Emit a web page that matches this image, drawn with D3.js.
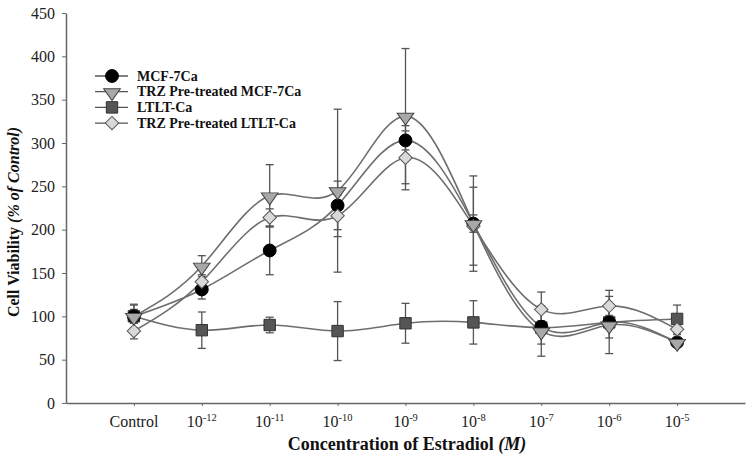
<!DOCTYPE html>
<html><head><meta charset="utf-8">
<script src="https://cdn.jsdelivr.net/npm/d3@7"></script>
<style>body{margin:0;background:#fff}svg{display:block}</style>
</head><body>
<svg id="c" width="750" height="458"></svg>
<script>
const categories = ["Control","-12","-11","-10","-9","-8","-7","-6","-5"];
const mcf7 =      [100, 131, 176, 228, 303, 207, 88, 93, 70];
const mcf7Err =   [8, 11, 28, 28, 11, 10, 20, 18, 3];
const trzMcf7 =   [100, 158, 239, 245, 331, 207, 83, 90, 70];
const trzMcf7Err =[13, 12, 36, 94, 78, 55, 29, 33, 4];
const ltlt =      [100, 84, 90, 83, 92, 93, 87, 93, 97];
const ltltErr =   [14, 21, 9, 34, 23, 25, 8, 8, 16];
const trzLtlt =   [83, 140, 214, 216, 283, 204, 108, 112, 85];
const trzLtltErr =[9, 8, 10, 24, 37, 45, 20, 18, 6];
const yTicks = [0,50,100,150,200,250,300,350,400,450];
const seriesNames = ["MCF-7Ca","TRZ Pre-treated MCF-7Ca","LTLT-Ca","TRZ Pre-treated LTLT-Ca"];

const svg = d3.select("#c");
const x = d3.scaleLinear().domain([0,10]).range([66,745]);
const y = d3.scaleLinear().domain([0,450]).range([403,13]);
const serif = "'Liberation Serif','Times New Roman',serif";

const series = [
  {name:seriesNames[0], v:mcf7, e:mcf7Err, shape:"circle", fill:"#000", stroke:"#000"},
  {name:seriesNames[1], v:trzMcf7, e:trzMcf7Err, shape:"tri", fill:"#a8a8a8", stroke:"#444"},
  {name:seriesNames[2], v:ltlt, e:ltltErr, shape:"square", fill:"#555", stroke:"#333"},
  {name:seriesNames[3], v:trzLtlt, e:trzLtltErr, shape:"diamond", fill:"#d9d9d9", stroke:"#555"}
];

function sym(shape){
  const s = {circle:d3.symbolCircle, tri:d3.symbolTriangle, square:d3.symbolSquare, diamond:d3.symbolSquare}[shape];
  const size = {circle:130, tri:100, square:130, diamond:90}[shape];
  return d3.symbol(s, size)();
}
function symTransform(shape, px, py){
  if(shape==="tri") return `translate(${px},${py+1}) rotate(180) scale(1.1,0.9)`;
  if(shape==="diamond") return `translate(${px},${py}) rotate(45)`;
  return `translate(${px},${py})`;
}

// axes
const yAxis = d3.axisLeft(y).tickValues(yTicks).tickSize(4).tickSizeOuter(0);
const gy = svg.append("g").attr("transform","translate(66,0)").call(yAxis);
gy.select(".domain").attr("stroke","#666").attr("stroke-width",1.5);
gy.selectAll(".tick line").attr("stroke","#666");
gy.selectAll(".tick text").attr("font-family",serif).attr("font-size",16).attr("fill","#222").attr("x",-11);

const xAxis = d3.axisBottom(x).tickValues(d3.range(1,10)).tickSize(3).tickSizeOuter(0).tickFormat("");
const gx = svg.append("g").attr("transform","translate(0,403)").call(xAxis);
gx.select(".domain").attr("stroke","#666").attr("stroke-width",1.5);
gx.selectAll(".tick line").attr("stroke","#666");

// x tick labels
const xl = svg.append("g");
categories.forEach((c,i)=>{
  const t = xl.append("text").attr("x",x(i+1)).attr("y",427).attr("text-anchor","middle")
    .attr("font-family",serif).attr("font-size",16).attr("fill","#222");
  if(c==="Control"){ t.text(c); }
  else { t.append("tspan").text("10"); t.append("tspan").attr("dy",-6).attr("font-size",10.5).text(c); }
});

// axis titles
const xt = svg.append("text").attr("x",407).attr("y",450).attr("text-anchor","middle")
  .attr("font-family",serif).attr("font-size",18).attr("font-weight","bold").attr("fill","#111");
xt.append("tspan").text("Concentration of Estradiol ");
xt.append("tspan").attr("font-style","italic").text("(M)");

const yt = svg.append("text").attr("transform","translate(19,222) rotate(-90)").attr("text-anchor","middle")
  .attr("font-family",serif).attr("font-size",16).attr("font-weight","bold").attr("fill","#111");
yt.append("tspan").text("Cell Viability ");
yt.append("tspan").attr("font-style","italic").text("(% of Control)");

// lines
const line = d3.line().x((d,i)=>x(i+1)).y(d=>y(d)).curve(d3.curveNatural);
series.forEach(s=>{
  svg.append("path").attr("d",line(s.v)).attr("fill","none").attr("stroke","#6e6e6e").attr("stroke-width",1.6);
});

// error bars
series.forEach(s=>{
  const g = svg.append("g").attr("stroke","#555").attr("stroke-width",1.3);
  s.v.forEach((v,i)=>{
    const px = x(i+1);
    g.append("line").attr("x1",px).attr("x2",px).attr("y1",y(v-s.e[i])).attr("y2",y(v+s.e[i]));
    [v-s.e[i], v+s.e[i]].forEach(w=>g.append("line").attr("x1",px-4).attr("x2",px+4).attr("y1",y(w)).attr("y2",y(w)));
  });
});

// markers
[2,0,3,1].forEach(k=>{
  const s = series[k];
  svg.append("g").selectAll("path").data(s.v).join("path")
    .attr("d",sym(s.shape)).attr("transform",(d,i)=>symTransform(s.shape,x(i+1),y(d)))
    .attr("fill",s.fill).attr("stroke",s.stroke).attr("stroke-width",1);
});

// legend
const lg = svg.append("g");
series.forEach((s,i)=>{
  const ly = 76 + i*15.7;
  lg.append("line").attr("x1",95).attr("x2",128).attr("y1",ly).attr("y2",ly).attr("stroke","#555").attr("stroke-width",1.3);
  lg.append("path").attr("d",sym(s.shape)).attr("transform",symTransform(s.shape,112,ly))
    .attr("fill",s.fill).attr("stroke",s.stroke);
  lg.append("text").attr("x",137).attr("y",ly+4.5).attr("font-family",serif).attr("font-size",14)
    .attr("font-weight","bold").attr("fill","#111").text(s.name);
});
</script>
</body></html>
